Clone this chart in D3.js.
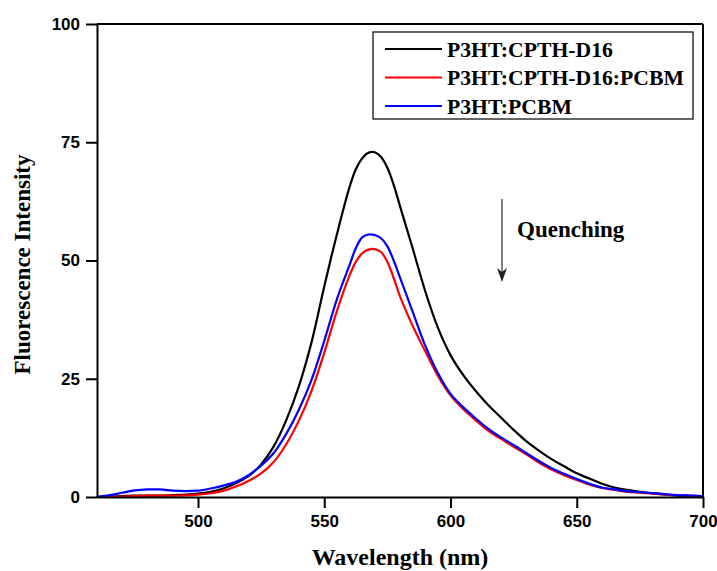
<!DOCTYPE html>
<html>
<head>
<meta charset="utf-8">
<script src="https://cdn.jsdelivr.net/npm/d3@7"></script>
<style>
  html, body { margin: 0; padding: 0; background: #fff; }
  svg { display: block; }
</style>
</head>
<body>
<svg id="chart" width="717" height="571"></svg>
<script>
const wavelengths = [460,465,470,475,480,485,490,495,500,505,510,515,520,525,530,535,540,545,550,555,560,562.5,565,567.5,570,572.5,575,577.5,580,585,590,595,600,605,610,615,620,625,630,635,640,645,650,655,660,665,670,675,680,685,690,695,700];
const seriesNames = ["P3HT:CPTH-D16", "P3HT:CPTH-D16:PCBM", "P3HT:PCBM"];
const seriesColors = ["#000000", "#ff0000", "#0000ff"];
const blackValues = [0,0.1,0.2,0.3,0.3,0.3,0.4,0.5,0.7,1.1,1.8,2.9,4.4,6.9,10.7,16.3,23.5,32.8,44.5,55.5,65.5,69.3,71.6,72.8,72.9,71.9,69.6,66.0,61.5,52.6,43.5,35.8,30.0,25.8,22.4,19.4,16.8,14.2,11.8,9.8,8.0,6.5,5.0,3.9,2.8,2.0,1.5,1.1,0.8,0.5,0.3,0.2,0.1];
const redValues = [0,0.05,0.1,0.2,0.3,0.3,0.3,0.35,0.5,0.8,1.3,2.2,3.4,5.0,7.4,11.2,16.2,22.5,30.5,39.3,46.8,49.7,51.5,52.3,52.4,51.8,49.7,46.3,42.4,36.2,30.8,25.6,21.5,18.6,16.2,14.0,12.3,10.6,9.0,7.3,5.8,4.6,3.6,2.6,1.9,1.5,1.1,0.9,0.7,0.5,0.4,0.3,0.2];
const blueValues = [0,0.4,0.9,1.4,1.6,1.6,1.35,1.25,1.35,1.8,2.4,3.2,4.6,6.6,9.3,13.4,18.5,24.8,33.0,41.8,49.0,52.6,54.9,55.5,55.4,54.7,53.0,50.0,46.4,39.2,32.0,26.2,21.8,19.0,16.6,14.4,12.6,11.0,9.3,7.6,6.1,4.9,3.8,2.8,2.0,1.6,1.2,1.0,0.8,0.6,0.4,0.3,0.2];
const xTicks = [500,550,600,650,700];
const yTicks = [0,25,50,75,100];
const xDomain = [460,700];
const yDomain = [0,100];

const svg = d3.select("#chart");
const W = 717, H = 571;
const m = {left: 97, top: 24, right: 14, bottom: 74};
const x = d3.scaleLinear().domain(xDomain).range([m.left, W - m.right]);
const y = d3.scaleLinear().domain(yDomain).range([H - m.bottom, m.top]);

svg.append("rect").attr("width", W).attr("height", H).attr("fill", "#fff");

// curves
const allValues = [blackValues, redValues, blueValues];
const line = d3.line().x(d => x(d[0])).y(d => y(Math.max(0, d[1]))).curve(d3.curveCatmullRom.alpha(0.5));
[0, 1, 2].forEach(i => {
  const pts = wavelengths.map((w, j) => [w, allValues[i][j]]);
  svg.append("path").datum(pts).attr("d", line)
    .attr("fill", "none").attr("stroke", seriesColors[i]).attr("stroke-width", 2.2)
    .attr("stroke-linejoin", "round");
});

// frame top/right
svg.append("line").attr("x1", x(xDomain[0])).attr("x2", x(xDomain[1])).attr("y1", y(100)).attr("y2", y(100))
  .attr("stroke", "#000").attr("stroke-width", 2);
svg.append("line").attr("x1", x(xDomain[1])).attr("x2", x(xDomain[1])).attr("y1", y(100)).attr("y2", y(0))
  .attr("stroke", "#000").attr("stroke-width", 2);

// axes
const xAxis = d3.axisBottom(x).tickValues(xTicks).tickSize(11).tickPadding(7).tickSizeOuter(0);
const yAxis = d3.axisLeft(y).tickValues(yTicks).tickSize(11).tickPadding(6).tickSizeOuter(0);
const gx = svg.append("g").attr("transform", `translate(0,${y(0)})`).call(xAxis);
const gy = svg.append("g").attr("transform", `translate(${x(xDomain[0])},0)`).call(yAxis);
[gx, gy].forEach(g => {
  g.select(".domain").attr("stroke", "#000").attr("stroke-width", 2);
  g.selectAll(".tick line").attr("stroke", "#000").attr("stroke-width", 2);
  g.selectAll(".tick text").attr("fill", "#000")
    .style("font-family", "'Liberation Sans', Arial, sans-serif")
    .style("font-weight", "bold").style("font-size", "17px");
});

// axis titles
svg.append("text").attr("x", (x(xDomain[0]) + x(xDomain[1])) / 2).attr("y", 565)
  .attr("text-anchor", "middle")
  .style("font-family", "'Liberation Serif', 'Times New Roman', serif")
  .style("font-weight", "bold").style("font-size", "24px")
  .text("Wavelength (nm)");
svg.append("text").attr("transform", `translate(30,${(y(0) + y(100)) / 2 + 4}) rotate(-90)`)
  .attr("text-anchor", "middle")
  .style("font-family", "'Liberation Serif', 'Times New Roman', serif")
  .style("font-weight", "bold").style("font-size", "23px")
  .text("Fluorescence Intensity");

// legend
const lg = svg.append("g");
lg.append("rect").attr("x", 373).attr("y", 32).attr("width", 320).attr("height", 87)
  .attr("fill", "#fff").attr("stroke", "#000").attr("stroke-width", 1.2);
[0, 1, 2].forEach(i => {
  const ly = 49 + i * 28.5;
  lg.append("line").attr("x1", 385).attr("x2", 442).attr("y1", ly).attr("y2", ly)
    .attr("stroke", seriesColors[i]).attr("stroke-width", 2.2);
  lg.append("text").attr("x", 447).attr("y", ly + 7.5)
    .style("font-family", "'Liberation Serif', 'Times New Roman', serif")
    .style("font-weight", "bold").style("font-size", "21.7px")
    .text(seriesNames[i]);
});

// quenching annotation
svg.append("line").attr("x1", 502).attr("x2", 502).attr("y1", 199).attr("y2", 280)
  .attr("stroke", "#555").attr("stroke-width", 1.5);
svg.append("path").attr("d", "M497,268 L502,272 L507,268 L502,282 Z").attr("fill", "#222");
svg.append("text").attr("x", 517).attr("y", 237)
  .style("font-family", "'Liberation Serif', 'Times New Roman', serif")
  .style("font-weight", "bold").style("font-size", "23px")
  .text("Quenching");
</script>
</body>
</html>
